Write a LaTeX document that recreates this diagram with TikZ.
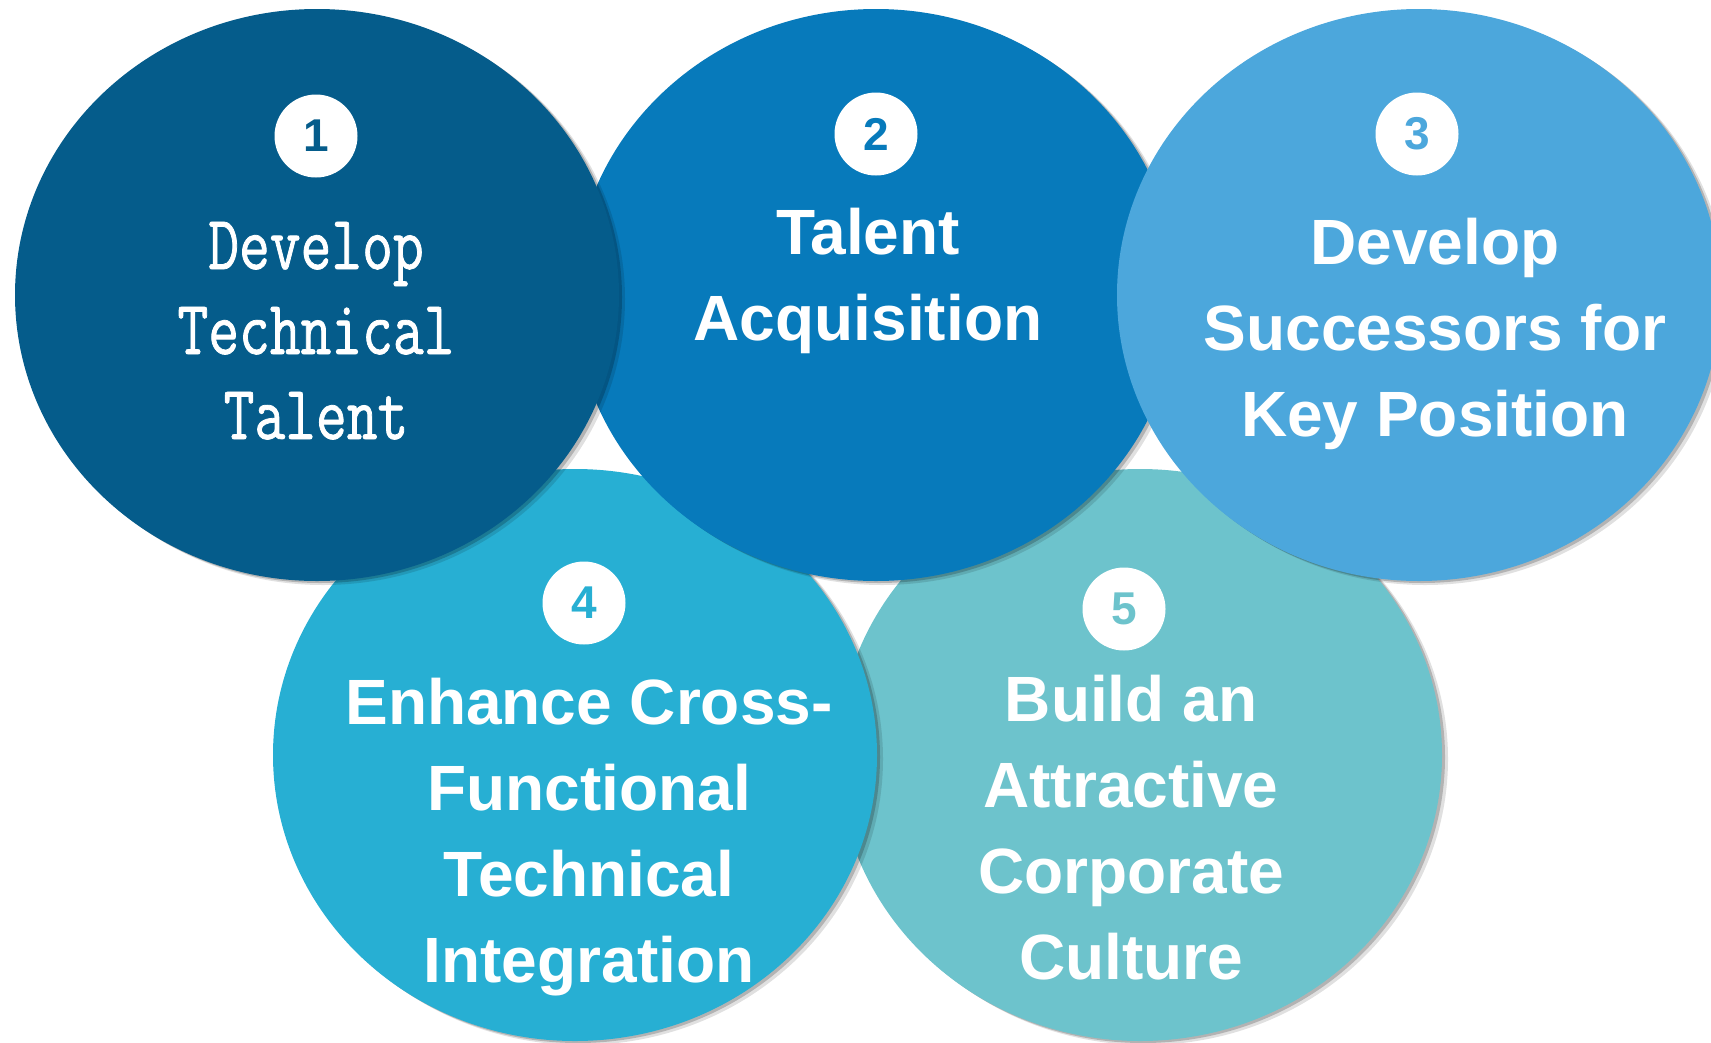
\documentclass[tikz,border=0pt]{standalone}
\usepackage{fontspec}
\setmainfont{Liberation Sans}
\newfontfamily\narrowmono[FakeStretch=0.776,FakeBold=1]{Latin Modern Mono}
\usetikzlibrary{shapes.geometric,shadows}

\definecolor{petalA}{HTML}{055C8B}
\definecolor{petalB}{HTML}{077ABB}
\definecolor{petalC}{HTML}{4CA7DC}
\definecolor{petalD}{HTML}{27AFD3}
\definecolor{petalE}{HTML}{6DC3CC}

\begin{document}
\begin{tikzpicture}[x=1pt,y=-1pt,
    petal/.style={ellipse,minimum width=604pt,minimum height=572pt,inner sep=0pt,
      drop shadow={shadow xshift=6pt,shadow yshift=-4pt,fill=black,opacity=0.12},
      drop shadow={shadow xshift=3pt,shadow yshift=-2pt,fill=black,opacity=0.2}},
    badge/.style={circle,fill=white,minimum size=83pt,inner sep=0pt,
      font=\bfseries\fontsize{46}{46}\selectfont},
    caption/.style={text=white,align=center,anchor=base,
      font=\bfseries\fontsize{64}{86}\selectfont}]
  \useasboundingbox (0,0) rectangle (1711,1042);

  % bottom row first, top row over it
  \node[petal,fill=petalE] (p5) at (1140,755) {};
  \node[badge,text=petalE] (n5) at (1124,609) {5};
  \node[caption] (t5) at (1131,979) {Build an\\Attractive\\Corporate\\Culture};

  \node[petal,fill=petalD] (p4) at (575,755) {};
  \node[badge,text=petalD] (n4) at (584,603) {4};
  \node[caption] (t4) at (589,982) {Enhance Cross-\\Functional\\Technical\\Integration};

  \node[petal,fill=petalB] (p2) at (876,295) {};
  \node[badge,text=petalB] (n2) at (876,134) {2};
  \node[caption] (t2) at (868,340) {Talent\\Acquisition};

  \node[petal,fill=petalA] (p1) at (317,295) {};
  \node[badge,text=petalA] (n1) at (316,136) {1};
  \node[text=white,align=center,anchor=base,font=\narrowmono\fontsize{77}{85}\selectfont]
    (t1) at (316,439) {Develop\\Technical\\Talent};

  \node[petal,fill=petalC] (p3) at (1419,295) {};
  \node[badge,text=petalC] (n3) at (1417,134) {3};
  \node[caption] (t3) at (1435,436) {Develop\\Successors for\\Key Position};
\end{tikzpicture}
\end{document}
